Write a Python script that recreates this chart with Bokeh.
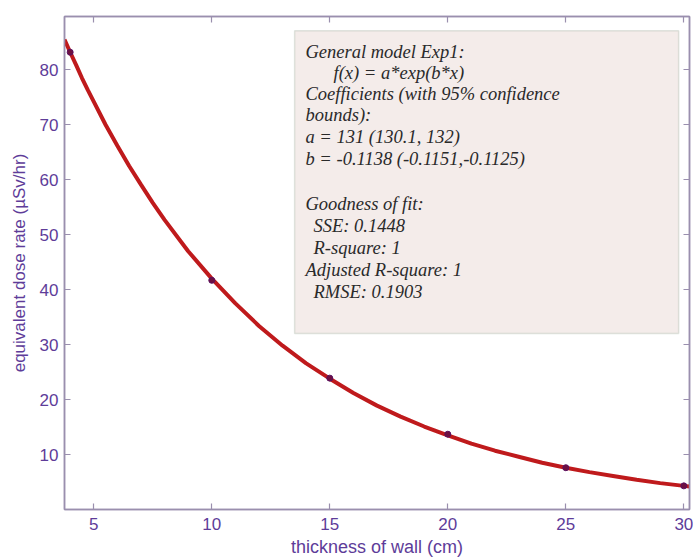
from bokeh.plotting import figure
from bokeh.models import Range1d, LinearAxis, FixedTicker, BoxAnnotation, Label
from bokeh.embed import file_html
from bokeh.resources import INLINE

# measured data points
thickness = [4, 10, 15, 20, 25, 30]
dose_rate = [83.2, 41.7, 23.9, 13.7, 7.6, 4.3]

# fitted curve
curve_x = [3.76, 4, 4.25, 4.5, 4.75, 5, 5.5, 6, 6.5, 7, 7.5, 8, 9, 10, 11, 12, 13, 14, 15,
           16, 17, 18, 19, 20, 21, 22, 23, 24, 25, 26, 27, 28, 29, 30, 30.24]
curve_y = [85.5, 83.2, 80.9, 78.5, 76.3, 74.2, 70.0, 66.2, 62.5, 59.1, 55.8, 52.7, 47.0,
           42.0, 37.5, 33.4, 29.8, 26.6, 23.8, 21.2, 18.9, 16.9, 15.1, 13.5, 12.0, 10.7,
           9.6, 8.5, 7.6, 6.8, 6.1, 5.4, 4.8, 4.3, 4.2]

x_ticks = [5, 10, 15, 20, 25, 30]
y_ticks = [10, 20, 30, 40, 50, 60, 70, 80]

fit_text = [
    "General model Exp1:",
    "f(x) = a*exp(b*x)",
    "Coefficients (with 95% confidence",
    "bounds):",
    "a = 131 (130.1, 132)",
    "b = -0.1138 (-0.1151,-0.1125)",
    "Goodness of fit:",
    "SSE: 0.1448",
    "R-square: 1",
    "Adjusted R-square: 1",
    "RMSE: 0.1903",
]

PURPLE = "#5e3c99"
AXIS = "#9a8fae"

p = figure(width=693, height=559, output_backend="svg", toolbar_location=None,
           x_range=Range1d(3.76, 30.24), y_range=Range1d(0, 89.7),
           min_border_left=64, min_border_right=4, min_border_top=16, min_border_bottom=50)
p.grid.visible = False
p.outline_line_color = AXIS
p.outline_line_width = 1.5
p.background_fill_color = "white"
p.border_fill_color = "white"

def style(ax, ticks, labels=True):
    ax.ticker = FixedTicker(ticks=ticks)
    ax.major_tick_in = 6
    ax.major_tick_out = 0
    ax.minor_tick_line_color = None
    ax.axis_line_color = AXIS
    ax.axis_line_width = 1.5
    ax.major_tick_line_color = AXIS
    ax.major_tick_line_width = 1.2
    if labels:
        ax.major_label_text_color = PURPLE
        ax.major_label_text_font = "Liberation Sans"
        ax.major_label_text_font_size = "17px"
        ax.axis_label_text_color = PURPLE
        ax.axis_label_text_font = "Liberation Sans"
        ax.axis_label_text_font_size = "17px"
        ax.axis_label_text_font_style = "normal"
    else:
        ax.major_label_text_color = None
        ax.major_label_text_font_size = "1px"
        ax.major_label_standoff = 0

style(p.xaxis[0], x_ticks)
style(p.yaxis[0], y_ticks)
p.xaxis[0].axis_label = "thickness of wall (cm)"
p.yaxis[0].axis_label = "equivalent dose rate (µSv/hr)"
p.xaxis[0].axis_label_text_font_size = "18px"
p.xaxis[0].major_label_standoff = 8
p.xaxis[0].axis_label_standoff = 4
p.yaxis[0].major_label_standoff = 6
p.yaxis[0].axis_label_standoff = 8

top_ax = LinearAxis()
style(top_ax, x_ticks, labels=False)
p.add_layout(top_ax, "above")
right_ax = LinearAxis()
style(right_ax, y_ticks, labels=False)
p.add_layout(right_ax, "right")

p.line(curve_x, curve_y, line_color="#bf1a1c", line_width=4)
p.scatter(thickness, dose_rate, size=6, fill_color="#6e1040", line_color="#5a1060")

box = BoxAnnotation(left=13.51, right=29.78, top=87.1, bottom=32.0,
                    fill_color="#f4ecea", fill_alpha=1.0,
                    line_color="#9aab9a", line_width=1.5)
p.add_layout(box)

ys = [83.3, 79.5, 75.6, 71.8, 67.8, 63.8, 55.5, 51.5, 47.5, 43.5, 39.5]
xs = [13.97, 15.16, 13.97, 13.97, 13.97, 13.97, 13.97, 14.31, 14.31, 13.97, 14.31]
for t, xx, yy in zip(fit_text, xs, ys):
    p.add_layout(Label(x=xx, y=yy, text=t, text_font="Liberation Serif",
                       text_font_style="italic", text_font_size="18.5px",
                       text_color="#2a2a2a", text_baseline="middle"))

open("out.html", "w").write(file_html(p, INLINE))
